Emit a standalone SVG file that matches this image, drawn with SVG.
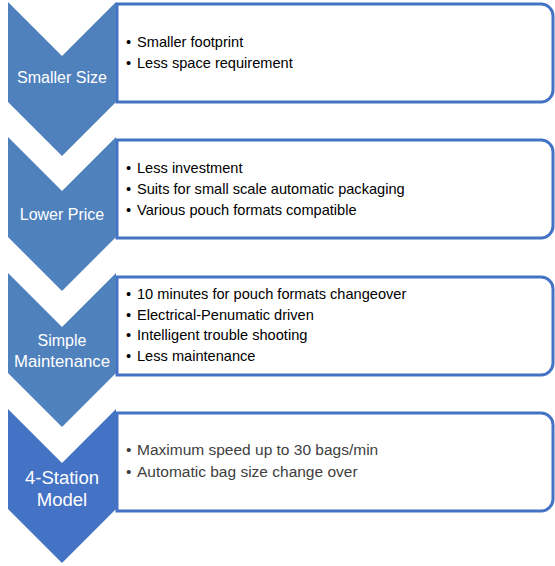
<svg xmlns="http://www.w3.org/2000/svg" width="555" height="566" viewBox="0 0 555 566">
<style>
.chev{fill:#4F81BD}
.chev4{fill:#4472C4}
.box{fill:#fff;stroke:#4472C4;stroke-width:3}
.lbl{font-family:"Liberation Sans",Arial,sans-serif;font-size:16px;fill:#fff;text-anchor:middle}
.item{font-family:"Liberation Sans",Arial,sans-serif;font-size:14.6px;fill:#000}
.item4{font-family:"Liberation Sans",Arial,sans-serif;font-size:15.5px;fill:#404040}
</style>
<rect width="555" height="566" fill="#fff"/>
<g id="connectors"></g>
<g id="box1">
<path class="box" d="M117,4 H541 A12,12 0 0 1 553,16 V90 A12,12 0 0 1 541,102 H117 Z"/>
<text class="item" x="126" y="47">•</text><text class="item" x="137" y="47">Smaller footprint</text>
<text class="item" x="126" y="68">•</text><text class="item" x="137" y="68">Less space requirement</text>
</g>
<g id="box2">
<path class="box" d="M117,140 H541 A12,12 0 0 1 553,152 V226 A12,12 0 0 1 541,238 H117 Z"/>
<text class="item" x="126" y="173">•</text><text class="item" x="137" y="173">Less investment</text>
<text class="item" x="126" y="194">•</text><text class="item" x="137" y="194">Suits for small scale automatic packaging</text>
<text class="item" x="126" y="215">•</text><text class="item" x="137" y="215">Various pouch formats compatible</text>
</g>
<g id="box3">
<path class="box" d="M117,277 H541 A12,12 0 0 1 553,289 V363 A12,12 0 0 1 541,375 H117 Z"/>
<text class="item" x="126" y="299">•</text><text class="item" x="137" y="299">10 minutes for pouch formats changeover</text>
<text class="item" x="126" y="320">•</text><text class="item" x="137" y="320">Electrical-Penumatic driven</text>
<text class="item" x="126" y="340">•</text><text class="item" x="137" y="340">Intelligent trouble shooting</text>
<text class="item" x="126" y="361">•</text><text class="item" x="137" y="361">Less maintenance</text>
</g>
<g id="box4">
<path class="box" d="M117,413 H541 A12,12 0 0 1 553,425 V499 A12,12 0 0 1 541,511 H117 Z"/>
<text class="item4" x="126" y="455">•</text><text class="item4" x="137" y="455">Maximum speed up to 30 bags/min</text>
<text class="item4" x="126" y="477">•</text><text class="item4" x="137" y="477">Automatic bag size change over</text>
</g>
<g id="chevron1">
<path class="chev" d="M8,2 L62,56 L116,2 V102 L62,156 L8,102 Z"/>
<text class="lbl" x="62" y="83">Smaller Size</text>
</g>
<g id="chevron2">
<path class="chev" d="M8,137 L62,191 L116,137 V237 L62,291 L8,237 Z"/>
<text class="lbl" x="62" y="220">Lower Price</text>
</g>
<g id="chevron3">
<path class="chev" d="M8,273 L62,327 L116,273 V373 L62,427 L8,373 Z"/>
<text class="lbl" x="62" y="346">Simple</text>
<text class="lbl" x="62" y="367" style="font-size:16.8px">Maintenance</text>
</g>
<g id="chevron4">
<path class="chev4" d="M8,409 L62,463 L116,409 V509 L62,563 L8,509 Z"/>
<text class="lbl" x="62" y="484" style="font-size:18.5px">4-Station</text>
<text class="lbl" x="62" y="506" style="font-size:18.5px">Model</text>
</g>
</svg>
